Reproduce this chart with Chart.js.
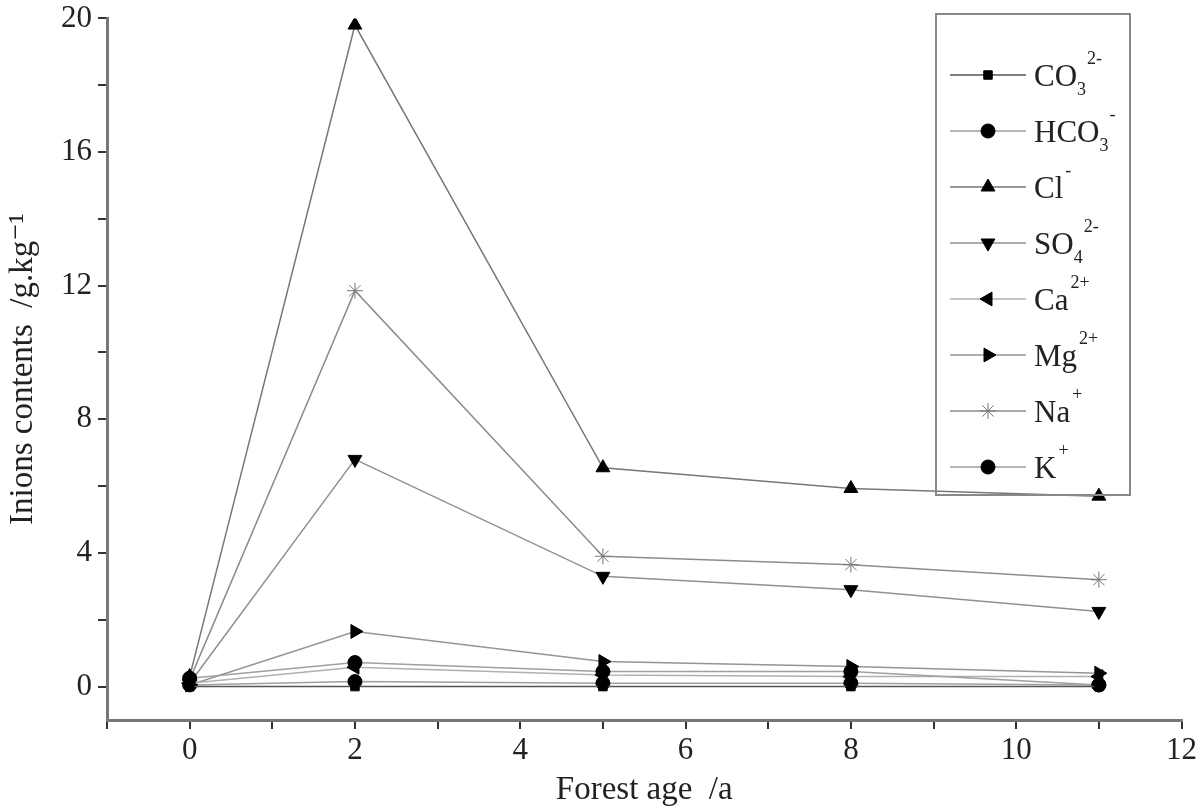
<!DOCTYPE html>
<html>
<head>
<meta charset="utf-8">
<script src="https://cdn.jsdelivr.net/npm/chart.js@4/dist/chart.umd.min.js"></script>
<style>
  html, body { margin: 0; padding: 0; background: #fff; }
  #wrap { width: 1200px; height: 810px; }
</style>
</head>
<body>
<div id="wrap"><canvas id="ionChart" width="1200" height="810"></canvas></div>
<script>
"use strict";

// forest age (a)
var forestAge = [0, 2, 5, 8, 11];

// ion contents, g/kg
var co3 = [0, 0, 0, 0, 0];
var hco3 = [0.25, 0.72, 0.45, 0.45, 0.05];
var cl = [0.3, 19.8, 6.55, 5.93, 5.7];
var so4 = [0.1, 6.8, 3.3, 2.9, 2.25];
var ca = [0.1, 0.58, 0.35, 0.3, 0.3];
var mg = [0.05, 1.65, 0.75, 0.6, 0.4];
var na = [0.2, 11.85, 3.9, 3.65, 3.2];
var k = [0.05, 0.15, 0.1, 0.1, 0.05];

var xTicks = [-1, 0, 1, 2, 3, 4, 5, 6, 7, 8, 9, 10, 11, 12];
var yTicks = [0, 2, 4, 6, 8, 10, 12, 14, 16, 18, 20];

// legend text pieces: base, subscript, superscript
var ionBase = ["CO", "HCO", "Cl", "SO", "Ca", "Mg", "Na", "K"];
var ionSub = ["3", "3", "", "4", "", "", "", ""];
var ionSup = ["2-", "-", "-", "2-", "2+", "2+", "+", "+"];

var serif = "'Liberation Serif', 'DejaVu Serif', serif";

function pts(vals) {
    return forestAge.map(function (a, i) { return {x: a, y: vals[i]}; });
}

function series(name, vals, lineColor, style, rot, markColor, radius) {
    return {
        label: name,
        data: pts(vals),
        borderColor: lineColor,
        borderWidth: 1.5,
        pointStyle: style,
        rotation: rot,
        pointRadius: radius,
        pointBackgroundColor: markColor,
        pointBorderColor: markColor,
        pointBorderWidth: 1,
        tension: 0,
        fill: false
    };
}

var datasets = [
    series("CO3", co3, "#555", "rect", 0, "#000", 6),
    series("HCO3", hco3, "#a0a0a0", "circle", 0, "#000", 7),
    series("Cl", cl, "#777", "triangle", 0, "#000", 8),
    series("SO4", so4, "#909090", "triangle", 180, "#000", 8),
    series("Ca", ca, "#b0b0b0", "triangle", 270, "#000", 8),
    series("Mg", mg, "#959595", "triangle", 90, "#000", 8),
    series("Na", na, "#8c8c8c", "star", 0, "#777", 8),
    series("K", k, "#a0a0a0", "circle", 0, "#000", 7)
];

// boxed legend drawn inside the plot, line + marker + formula
var boxLegend = {
    id: "boxLegend",
    afterDraw: function (chart) {
        var ctx = chart.ctx;
        ctx.save();
        ctx.strokeStyle = "#888";
        ctx.lineWidth = 2;
        ctx.strokeRect(936, 14, 194, 481);
        chart.data.datasets.forEach(function (ds, i) {
            var y = 75 + i * 56;
            ctx.strokeStyle = ds.borderColor;
            ctx.lineWidth = 1.6;
            ctx.beginPath();
            ctx.moveTo(950, y);
            ctx.lineTo(1026, y);
            ctx.stroke();
            ctx.fillStyle = ds.pointBackgroundColor;
            ctx.strokeStyle = ds.pointBorderColor;
            ctx.lineWidth = 1;
            Chart.helpers.drawPoint(ctx, {
                pointStyle: ds.pointStyle,
                rotation: ds.rotation,
                radius: ds.pointRadius,
                borderWidth: 1
            }, 988, y);

            ctx.fillStyle = "#222";
            ctx.textBaseline = "alphabetic";
            ctx.textAlign = "left";
            ctx.font = "31px " + serif;
            var tx = 1034, base = y + 11;
            ctx.fillText(ionBase[i], tx, base);
            tx += ctx.measureText(ionBase[i]).width;
            ctx.font = "18px " + serif;
            var supX = tx + 2;
            if (ionSub[i]) {
                ctx.fillText(ionSub[i], tx, base + 9);
                supX = tx + ctx.measureText(ionSub[i]).width + 1;
            }
            ctx.fillText(ionSup[i], supX, base - 22);
        });
        ctx.restore();
    }
};

var ctx = document.getElementById("ionChart");
var myChart = new Chart(ctx, {
    type: "line",
    data: { datasets: datasets },
    plugins: [boxLegend],
    options: {
        responsive: false,
        animation: false,
        layout: { padding: { top: 18, right: 17, left: 0, bottom: 0 } },
        plugins: {
            legend: { display: false },
            tooltip: { enabled: false }
        },
        scales: {
            x: {
                type: "linear",
                min: -1,
                max: 12,
                afterBuildTicks: function (scale) {
                    scale.ticks = xTicks.map(function (v) { return {value: v}; });
                },
                afterFit: function (scale) { scale.height = 90; },
                border: { color: "#777", width: 3 },
                grid: { drawOnChartArea: false, drawTicks: true, tickLength: 9, color: "#333", lineWidth: 2 },
                ticks: {
                    autoSkip: false,
                    maxRotation: 0,
                    padding: 3,
                    color: "#222",
                    font: { family: serif, size: 31 },
                    callback: function (v) { return (v >= 0 && v % 2 === 0) ? String(v) : ""; }
                },
                title: {
                    display: true,
                    text: "Forest age  /a",
                    color: "#222",
                    font: { family: serif, size: 33 },
                    padding: { top: 0, bottom: 0 }
                }
            },
            y: {
                type: "linear",
                min: -1,
                max: 20,
                afterBuildTicks: function (scale) {
                    scale.ticks = yTicks.map(function (v) { return {value: v}; });
                },
                afterFit: function (scale) { scale.width = 107; },
                border: { color: "#777", width: 3 },
                grid: { drawOnChartArea: false, drawTicks: true, tickLength: 9, color: "#333", lineWidth: 2 },
                ticks: {
                    autoSkip: false,
                    padding: 6,
                    color: "#222",
                    font: { family: serif, size: 31, lineHeight: 0.8 },
                    callback: function (v) { return v % 4 === 0 ? String(v) : ""; }
                },
                title: {
                    display: true,
                    text: "Inions contents  /g.kg\u207B\u00B9",
                    color: "#222",
                    font: { family: serif, size: 33 },
                    padding: { top: 4, bottom: 0 }
                }
            }
        }
    }
});
</script>
</body>
</html>
